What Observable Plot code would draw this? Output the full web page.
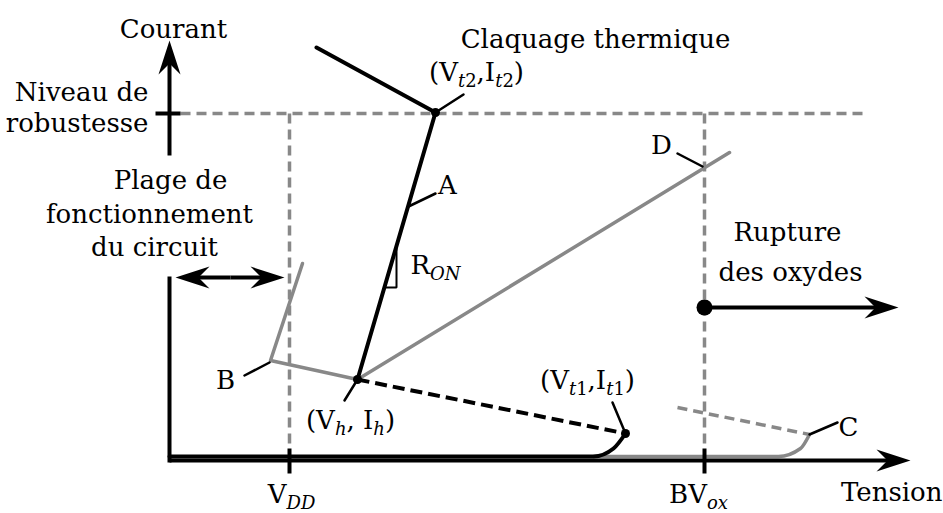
<!DOCTYPE html>
<html>
<head>
<meta charset="utf-8">
<script src="https://cdn.jsdelivr.net/npm/d3@7"></script>
<script src="https://cdn.jsdelivr.net/npm/@observablehq/plot@0.6"></script>
<style>
  html, body { margin: 0; padding: 0; background: #fff; }
  #chart svg { display: block; }
</style>
</head>
<body>
<div id="chart"></div>
<script>
// Coordinates: tension (x) and courant (y) in diagram units, origin at the axes corner.
const axisCurrent = [[0, 305], [0, 420]];        // shaft start, tip
const axisTension = [[0, 0], [741, 0]];          // shaft start, tip
const leftWall = [[0, -2], [0, 184]];
const robustTick = [[-14, 347], [11, 347]];
const robustLevel = [[11, 347], [693, 347]];
const vddX = 120, bvoxX = 535;
const guideTop = 347, guideBottom = 12, tickBottom = -13;
const rangeArrow = [[61, 183], [6, 183], [115, 183]]; // centre, left tip, right tip
const curveB = [[133, 197], [101, 100], [188, 81]];
const curveA = [[147, 413], [266, 348], [188, 81]];
const curveD = [[188, 81], [560, 308]];
const snapback = [[188, 81], [456, 27]];
const lowBlack = [[0, 4], [424, 4], [444, 12], [456, 27]];
const lowGray = [[424, 4], [609, 4], [631, 12], [640, 26]];
const dashedC = [[508, 53], [640, 26]];
const ronTriangle = [[215, 173], [227, 173], [227, 214]];
const leaders = [
  {id: "B", pts: [[75, 85], [100, 98]]},
  {id: "Vt2", pts: [[266, 348], [294, 366]]},
  {id: "A", pts: [[239, 254], [266, 267]]},
  {id: "D", pts: [[508, 307], [533, 294]]},
  {id: "Vt1", pts: [[456, 27], [443, 58]]},
  {id: "C", pts: [[640, 26], [668, 38]]},
  {id: "Vh", pts: [[188, 81], [175, 60]]}
];
const keyPoints = [[188, 81], [266, 348], [456, 27]];
const oxidePoint = [535, 153];
const oxideArrow = [[535, 153], [729, 153]];
const labels = [
  {x: 4, y: 423, t: "Courant", a: "middle"},
  {x: -21, y: 360, t: "Niveau de", a: "end"},
  {x: -21, y: 329, t: "robustesse", a: "end"},
  {x: 1, y: 272, t: "Plage de", a: "middle"},
  {x: -20, y: 238, t: "fonctionnement", a: "middle"},
  {x: -15, y: 205, t: "du circuit", a: "middle"},
  {x: 56, y: 72, t: "B", a: "middle"},
  {x: 181, y: 32, t: "(V_{h}, I_{h})", a: "middle"},
  {x: 307, y: 380, t: "(V_{t2},I_{t2})", a: "middle"},
  {x: 426, y: 413, t: "Claquage thermique", a: "middle"},
  {x: 278, y: 267, t: "A", a: "middle"},
  {x: 241, y: 187, t: "R_{ON}", a: "start"},
  {x: 492, y: 307, t: "D", a: "middle"},
  {x: 418, y: 72, t: "(V_{t1},I_{t1})", a: "middle"},
  {x: 679, y: 25, t: "C", a: "middle"},
  {x: 618, y: 220, t: "Rupture", a: "middle"},
  {x: 621, y: 180, t: "des oxydes", a: "middle"},
  {x: 122, y: -42, t: "V_{DD}", a: "middle"},
  {x: 529, y: -42, t: "BV_{ox}", a: "middle"},
  {x: 773, y: -40, t: "Tension", a: "end"}
];

// Arrow definitions built from the data above
const arrows = [
  {from: axisCurrent[0], tip: axisCurrent[1]},
  {from: axisTension[0], tip: axisTension[1]},
  {from: rangeArrow[0], tip: rangeArrow[1]},
  {from: rangeArrow[0], tip: rangeArrow[2]},
  {from: oxideArrow[0], tip: oxideArrow[1]}
].map(({from, tip}) => {
  const dx = tip[0] - from[0], dy = tip[1] - from[1];
  const len = Math.hypot(dx, dy);
  const back = [tip[0] - dx / len * 20, tip[1] - dy / len * 20];
  return {from, tip, back, rotate: Math.atan2(-dy, dx) * 180 / Math.PI};
});

// Stealth arrow head symbol, tip at the origin, pointing right
const stealth = {
  draw(ctx, size) {
    const k = Math.sqrt(size / Math.PI);
    ctx.moveTo(0, 0);
    ctx.lineTo(-34 * k, -11 * k);
    ctx.lineTo(-23 * k, 0);
    ctx.lineTo(-34 * k, 11 * k);
    ctx.closePath();
  }
};

const GRAY = "#888";
const px = d => d[0], py = d => d[1];
const guides = [vddX, bvoxX].flatMap((x, i) => [
  {x, y: guideTop, g: i}, {x, y: guideBottom, g: i}
]);
const ticks = [vddX, bvoxX].flatMap((x, i) => [
  {x, y: guideBottom, g: i}, {x, y: tickBottom, g: i}
]);
const leaderPts = leaders.flatMap(l => l.pts.map(p => ({x: p[0], y: p[1], id: l.id})));
const shafts = arrows.flatMap((a, i) => [{x: a.from[0], y: a.from[1], i}, {x: a.back[0], y: a.back[1], i}]);

const dash = {stroke: GRAY, strokeWidth: 3.5, strokeDasharray: "10,6", strokeLinecap: "butt"};
const textOpts = a => ({x: "x", y: "y", text: "t", textAnchor: a, lineAnchor: "bottom",
  fontFamily: "DejaVu Serif", fontSize: 26, fill: "black"});

const plot = Plot.plot({
  width: 943,
  height: 513,
  margin: 0,
  x: {domain: [-169, 774], range: [0, 943], axis: null},
  y: {domain: [-53, 460], range: [513, 0], axis: null},
  marks: [
    // grey dashed guides
    Plot.line(robustLevel, {x: px, y: py, ...dash}),
    Plot.line(guides, {x: "x", y: "y", z: "g", ...dash}),
    Plot.line(dashedC, {x: px, y: py, ...dash}),
    // grey curves
    Plot.line(curveB, {x: px, y: py, stroke: GRAY, strokeWidth: 3.5}),
    Plot.line(curveD, {x: px, y: py, stroke: GRAY, strokeWidth: 3.5}),
    Plot.line(lowGray, {x: px, y: py, stroke: GRAY, strokeWidth: 3.5, curve: "monotone-x"}),
    // axes
    Plot.line(leftWall, {x: px, y: py, stroke: "black", strokeWidth: 4, strokeLinecap: "butt"}),
    Plot.line(robustTick, {x: px, y: py, stroke: "black", strokeWidth: 4, strokeLinecap: "butt"}),
    Plot.line(ticks, {x: "x", y: "y", z: "g", stroke: "black", strokeWidth: 4, strokeLinecap: "butt"}),
    Plot.line(shafts, {x: "x", y: "y", z: "i", stroke: "black", strokeWidth: 4, strokeLinecap: "butt"}),
    Plot.dot(arrows, {x: d => d.tip[0], y: d => d.tip[1], rotate: "rotate", symbol: stealth, r: 1, fill: "black", stroke: "none"}),
    // black curves
    Plot.line(lowBlack, {x: px, y: py, stroke: "black", strokeWidth: 4, curve: "monotone-x"}),
    Plot.line(curveA, {x: px, y: py, stroke: "black", strokeWidth: 4, strokeLinejoin: "miter"}),
    Plot.line(snapback, {x: px, y: py, stroke: "black", strokeWidth: 4, strokeDasharray: "12,6", strokeLinecap: "butt"}),
    Plot.line(ronTriangle, {x: px, y: py, stroke: "black", strokeWidth: 2, strokeLinejoin: "miter"}),
    Plot.line(leaderPts, {x: "x", y: "y", z: "id", stroke: "black", strokeWidth: 2.5}),
    Plot.dot(keyPoints, {x: px, y: py, r: 4.5, fill: "black", stroke: "none"}),
    Plot.dot([oxidePoint], {x: px, y: py, r: 8, fill: "black", stroke: "none"}),
    // labels
    Plot.text(labels.filter(d => d.a === "middle"), textOpts("middle")),
    Plot.text(labels.filter(d => d.a === "start"), textOpts("start")),
    Plot.text(labels.filter(d => d.a === "end"), textOpts("end"))
  ]
});

// Build subscripts (tspans) for labels written as X_{sub}
const NS = "http://www.w3.org/2000/svg";
plot.querySelectorAll("text").forEach(el => {
  const s = el.textContent;
  if (!s.includes("_{")) return;
  const runs = [];
  const re = /_\{([^}]*)\}/g;
  let last = 0, m;
  while ((m = re.exec(s))) {
    if (m.index > last) runs.push({t: s.slice(last, m.index), sub: false});
    for (const part of m[1].match(/\d+|\D+/g)) runs.push({t: part, sub: true, italic: !/\d/.test(part)});
    last = re.lastIndex;
  }
  if (last < s.length) runs.push({t: s.slice(last), sub: false});
  el.textContent = "";
  let shifted = false;
  for (const r of runs) {
    const ts = document.createElementNS(NS, "tspan");
    ts.textContent = r.t;
    if (r.sub) {
      ts.setAttribute("font-size", "18");
      if (r.italic) ts.setAttribute("font-style", "italic");
      if (!shifted) { ts.setAttribute("dy", "6"); shifted = true; }
    } else if (shifted) {
      ts.setAttribute("dy", "-6"); shifted = false;
    }
    el.appendChild(ts);
  }
});

document.getElementById("chart").appendChild(plot);
</script>
</body>
</html>
